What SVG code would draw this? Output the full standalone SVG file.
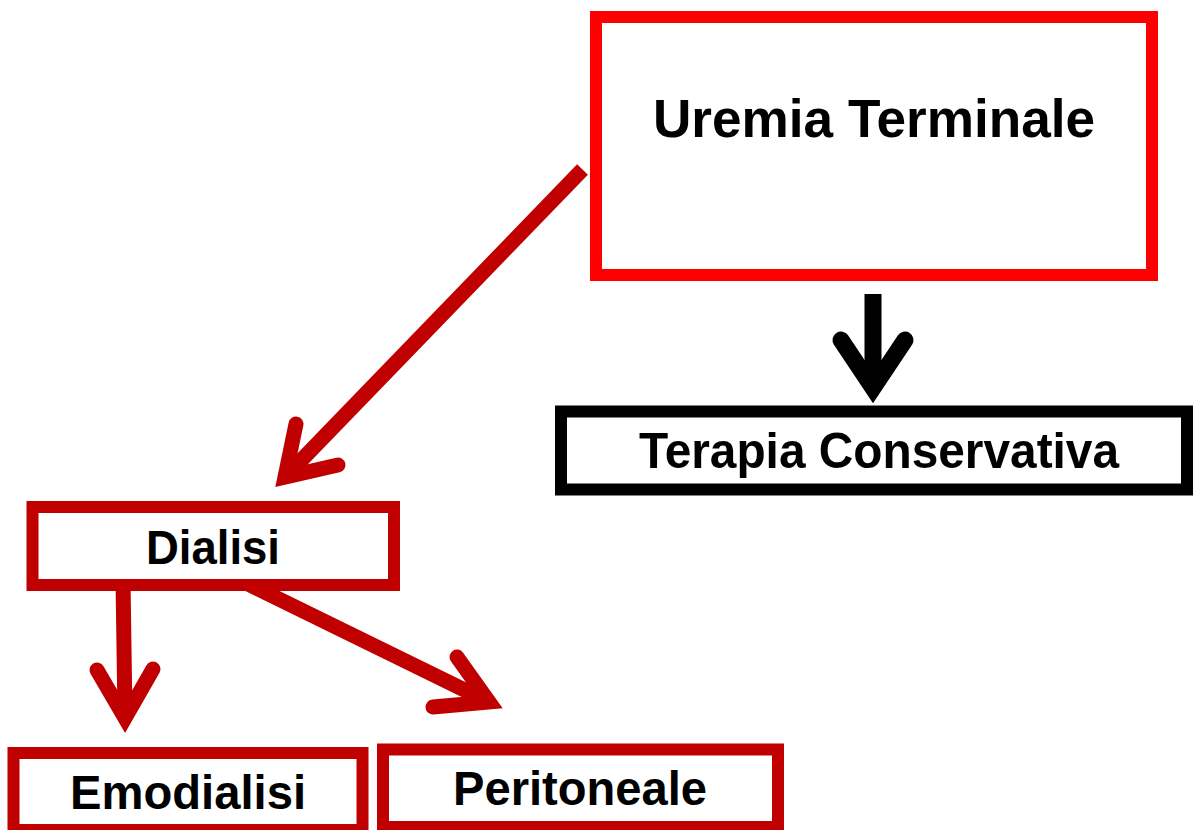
<svg xmlns="http://www.w3.org/2000/svg" width="1194" height="830" viewBox="0 0 1194 830">
<style>
.box{fill:#fff;stroke-width:12}
.red{stroke:#FF0000}
.dred{stroke:#C00000}
.blk{stroke:#000}
.lbl{font-family:"Liberation Sans",Arial,sans-serif;font-weight:bold;fill:#000;text-anchor:middle}
.shaft{fill:none;stroke-linecap:butt}
.head{fill:none;stroke-linecap:round;stroke-linejoin:miter;stroke-miterlimit:6}
</style>
<rect width="1194" height="830" fill="#fff"/>
<g id="connectors">
  <g stroke="#C00000" stroke-width="15">
    <line class="shaft" x1="582.5" y1="169.5" x2="287" y2="475"/>
    <polyline class="head" points="296,424 285,477 338,465"/>
    <line class="shaft" x1="123" y1="580" x2="125" y2="716"/>
    <polyline class="head" points="97,670 125,718 153,669"/>
    <line class="shaft" x1="240" y1="580" x2="487" y2="701"/>
    <polyline class="head" points="457,657 489,702 433,707"/>
  </g>
  <g stroke="#000" stroke-width="17">
    <line class="shaft" x1="873" y1="294" x2="873" y2="386"/>
    <polyline class="head" points="841,340 873,388 905,340"/>
  </g>
</g>
<g id="uremia">
  <rect class="box red" x="596" y="17" width="556" height="258"/>
  <text class="lbl" x="874" y="137" font-size="53" textLength="442" lengthAdjust="spacingAndGlyphs">Uremia Terminale</text>
</g>
<g id="terapia">
  <rect class="box blk" x="561" y="411.5" width="626" height="78" stroke-width="11"/>
  <text class="lbl" x="879" y="468" font-size="50" textLength="480" lengthAdjust="spacingAndGlyphs">Terapia Conservativa</text>
</g>
<g id="dialisi">
  <rect class="box dred" x="32.5" y="507" width="361.5" height="78"/>
  <text class="lbl" x="213" y="564" font-size="48" textLength="134" lengthAdjust="spacingAndGlyphs">Dialisi</text>
</g>
<g id="emodialisi">
  <rect class="box dred" x="13.5" y="753" width="349" height="77"/>
  <text class="lbl" x="188" y="809" font-size="48" textLength="236" lengthAdjust="spacingAndGlyphs">Emodialisi</text>
</g>
<g id="peritoneale">
  <rect class="box dred" x="383" y="749.5" width="395" height="77.5"/>
  <text class="lbl" x="580" y="805" font-size="48" textLength="254" lengthAdjust="spacingAndGlyphs">Peritoneale</text>
</g>
</svg>
